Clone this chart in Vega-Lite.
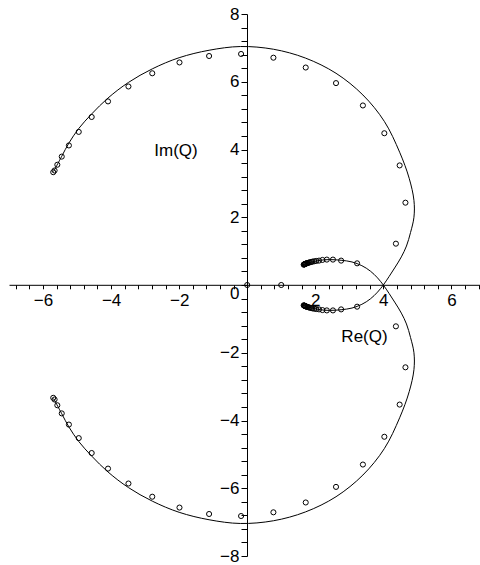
{
  "$schema": "https://vega.github.io/schema/vega-lite/v6.json",
  "width": 473,
  "height": 542,
  "autosize": "none",
  "padding": {"left": 9, "top": 14, "right": 0, "bottom": 9},
  "background": "white",
  "config": {
    "view": {"stroke": null},
    "font": "Liberation Sans"
  },
  "datasets": {
    "curve": [
      {"branch": "a", "i": 0, "re": -5.69, "im": 3.35},
      {"branch": "a", "i": 1, "re": -5.45, "im": 3.8},
      {"branch": "a", "i": 2, "re": -5.24, "im": 4.19},
      {"branch": "a", "i": 3, "re": -4.95, "im": 4.62},
      {"branch": "a", "i": 4, "re": -4.57, "im": 5.05},
      {"branch": "a", "i": 5, "re": -4.09, "im": 5.52},
      {"branch": "a", "i": 6, "re": -3.49, "im": 5.98},
      {"branch": "a", "i": 7, "re": -2.79, "im": 6.38},
      {"branch": "a", "i": 8, "re": -2.0, "im": 6.71},
      {"branch": "a", "i": 9, "re": -1.12, "im": 6.93},
      {"branch": "a", "i": 10, "re": -0.2, "im": 7.04},
      {"branch": "a", "i": 11, "re": 0.77, "im": 6.96},
      {"branch": "a", "i": 12, "re": 1.71, "im": 6.7},
      {"branch": "a", "i": 13, "re": 2.61, "im": 6.25},
      {"branch": "a", "i": 14, "re": 3.4, "im": 5.61},
      {"branch": "a", "i": 15, "re": 4.03, "im": 4.83},
      {"branch": "a", "i": 16, "re": 4.48, "im": 3.92},
      {"branch": "a", "i": 17, "re": 4.76, "im": 3.15},
      {"branch": "a", "i": 18, "re": 4.9, "im": 2.5},
      {"branch": "a", "i": 19, "re": 4.9, "im": 2.0},
      {"branch": "a", "i": 20, "re": 4.8, "im": 1.55},
      {"branch": "a", "i": 21, "re": 4.68, "im": 1.15},
      {"branch": "a", "i": 22, "re": 4.53, "im": 0.83},
      {"branch": "a", "i": 23, "re": 4.35, "im": 0.53},
      {"branch": "a", "i": 24, "re": 4.17, "im": 0.25},
      {"branch": "a", "i": 25, "re": 4.0, "im": 0.0},
      {"branch": "a", "i": 26, "re": 3.83, "im": -0.21},
      {"branch": "a", "i": 27, "re": 3.62, "im": -0.41},
      {"branch": "a", "i": 28, "re": 3.37, "im": -0.57},
      {"branch": "a", "i": 29, "re": 3.08, "im": -0.68},
      {"branch": "a", "i": 30, "re": 2.76, "im": -0.73},
      {"branch": "a", "i": 31, "re": 2.42, "im": -0.75},
      {"branch": "a", "i": 32, "re": 2.15, "im": -0.73},
      {"branch": "a", "i": 33, "re": 1.9, "im": -0.68},
      {"branch": "a", "i": 34, "re": 1.66, "im": -0.6},
      {"branch": "b", "i": 0, "re": -5.69, "im": -3.35},
      {"branch": "b", "i": 1, "re": -5.45, "im": -3.8},
      {"branch": "b", "i": 2, "re": -5.24, "im": -4.19},
      {"branch": "b", "i": 3, "re": -4.95, "im": -4.62},
      {"branch": "b", "i": 4, "re": -4.57, "im": -5.05},
      {"branch": "b", "i": 5, "re": -4.09, "im": -5.52},
      {"branch": "b", "i": 6, "re": -3.49, "im": -5.98},
      {"branch": "b", "i": 7, "re": -2.79, "im": -6.38},
      {"branch": "b", "i": 8, "re": -2.0, "im": -6.71},
      {"branch": "b", "i": 9, "re": -1.12, "im": -6.93},
      {"branch": "b", "i": 10, "re": -0.2, "im": -7.04},
      {"branch": "b", "i": 11, "re": 0.77, "im": -6.96},
      {"branch": "b", "i": 12, "re": 1.71, "im": -6.7},
      {"branch": "b", "i": 13, "re": 2.61, "im": -6.25},
      {"branch": "b", "i": 14, "re": 3.4, "im": -5.61},
      {"branch": "b", "i": 15, "re": 4.03, "im": -4.83},
      {"branch": "b", "i": 16, "re": 4.48, "im": -3.92},
      {"branch": "b", "i": 17, "re": 4.76, "im": -3.15},
      {"branch": "b", "i": 18, "re": 4.9, "im": -2.5},
      {"branch": "b", "i": 19, "re": 4.9, "im": -2.0},
      {"branch": "b", "i": 20, "re": 4.8, "im": -1.55},
      {"branch": "b", "i": 21, "re": 4.68, "im": -1.15},
      {"branch": "b", "i": 22, "re": 4.53, "im": -0.83},
      {"branch": "b", "i": 23, "re": 4.35, "im": -0.53},
      {"branch": "b", "i": 24, "re": 4.17, "im": -0.25},
      {"branch": "b", "i": 25, "re": 4.0, "im": 0.0},
      {"branch": "b", "i": 26, "re": 3.83, "im": 0.21},
      {"branch": "b", "i": 27, "re": 3.62, "im": 0.41},
      {"branch": "b", "i": 28, "re": 3.37, "im": 0.57},
      {"branch": "b", "i": 29, "re": 3.08, "im": 0.68},
      {"branch": "b", "i": 30, "re": 2.76, "im": 0.73},
      {"branch": "b", "i": 31, "re": 2.42, "im": 0.75},
      {"branch": "b", "i": 32, "re": 2.15, "im": 0.73},
      {"branch": "b", "i": 33, "re": 1.9, "im": 0.68},
      {"branch": "b", "i": 34, "re": 1.66, "im": 0.6}
    ],
    "points": [
      {"re": 0.0, "im": 0.0},
      {"re": 1.0, "im": 0.0},
      {"re": -5.7, "im": 3.33},
      {"re": -5.66, "im": 3.38},
      {"re": -5.58, "im": 3.55},
      {"re": -5.45, "im": 3.79},
      {"re": -5.24, "im": 4.12},
      {"re": -4.95, "im": 4.52},
      {"re": -4.57, "im": 4.96},
      {"re": -4.09, "im": 5.42},
      {"re": -3.49, "im": 5.86},
      {"re": -2.79, "im": 6.25},
      {"re": -1.99, "im": 6.57},
      {"re": -1.12, "im": 6.76},
      {"re": -0.18, "im": 6.82},
      {"re": 0.77, "im": 6.71},
      {"re": 1.72, "im": 6.42},
      {"re": 2.61, "im": 5.96},
      {"re": 3.4, "im": 5.3},
      {"re": 4.03, "im": 4.48},
      {"re": 4.48, "im": 3.53},
      {"re": 4.65, "im": 2.43},
      {"re": 4.37, "im": 1.22},
      {"re": 3.23, "im": 0.64},
      {"re": 2.76, "im": 0.72},
      {"re": 2.52, "im": 0.75},
      {"re": 2.34, "im": 0.75},
      {"re": 2.21, "im": 0.74},
      {"re": 2.11, "im": 0.72},
      {"re": 2.03, "im": 0.71},
      {"re": 1.97, "im": 0.7},
      {"re": 1.92, "im": 0.69},
      {"re": 1.88, "im": 0.68},
      {"re": 1.84, "im": 0.67},
      {"re": 1.81, "im": 0.66},
      {"re": 1.78, "im": 0.65},
      {"re": 1.76, "im": 0.645},
      {"re": 1.74, "im": 0.64},
      {"re": 1.72, "im": 0.63},
      {"re": 1.71, "im": 0.625},
      {"re": 1.7, "im": 0.62},
      {"re": 1.69, "im": 0.615},
      {"re": 1.68, "im": 0.61},
      {"re": 1.67, "im": 0.605},
      {"re": 1.66, "im": 0.6},
      {"re": -5.7, "im": -3.33},
      {"re": -5.66, "im": -3.38},
      {"re": -5.58, "im": -3.55},
      {"re": -5.45, "im": -3.79},
      {"re": -5.24, "im": -4.12},
      {"re": -4.95, "im": -4.52},
      {"re": -4.57, "im": -4.96},
      {"re": -4.09, "im": -5.42},
      {"re": -3.49, "im": -5.86},
      {"re": -2.79, "im": -6.25},
      {"re": -1.99, "im": -6.57},
      {"re": -1.12, "im": -6.76},
      {"re": -0.18, "im": -6.82},
      {"re": 0.77, "im": -6.71},
      {"re": 1.72, "im": -6.42},
      {"re": 2.61, "im": -5.96},
      {"re": 3.4, "im": -5.3},
      {"re": 4.03, "im": -4.48},
      {"re": 4.48, "im": -3.53},
      {"re": 4.65, "im": -2.43},
      {"re": 4.37, "im": -1.22},
      {"re": 3.23, "im": -0.64},
      {"re": 2.76, "im": -0.72},
      {"re": 2.52, "im": -0.75},
      {"re": 2.34, "im": -0.75},
      {"re": 2.21, "im": -0.74},
      {"re": 2.11, "im": -0.72},
      {"re": 2.03, "im": -0.71},
      {"re": 1.97, "im": -0.7},
      {"re": 1.92, "im": -0.69},
      {"re": 1.88, "im": -0.68},
      {"re": 1.84, "im": -0.67},
      {"re": 1.81, "im": -0.66},
      {"re": 1.78, "im": -0.65},
      {"re": 1.76, "im": -0.645},
      {"re": 1.74, "im": -0.64},
      {"re": 1.72, "im": -0.63},
      {"re": 1.71, "im": -0.625},
      {"re": 1.7, "im": -0.62},
      {"re": 1.69, "im": -0.615},
      {"re": 1.68, "im": -0.61},
      {"re": 1.67, "im": -0.605},
      {"re": 1.66, "im": -0.6}
    ]
  },
  "encoding": {
    "x": {
      "field": "re",
      "type": "quantitative",
      "scale": {"domain": [-7, 6.9], "nice": false, "zero": false},
      "axis": {
        "orient": "bottom",
        "offset": -271.2,
        "values": [-6.8, -6.4, -6, -5.6, -5.2, -4.8, -4.4, -4, -3.6, -3.2, -2.8, -2.4, -2, -1.6, -1.2, -0.8, -0.4, 0, 0.4, 0.8, 1.2, 1.6, 2, 2.4, 2.8, 3.2, 3.6, 4, 4.4, 4.8, 5.2, 5.6, 6, 6.4, 6.8],
        "labelExpr": "datum.value % 2 == 0 && datum.value != 0 ? format(datum.value, 'd') : ''",
        "grid": false,
        "domainColor": "black",
        "domainWidth": 1,
        "tickColor": "black",
        "tickWidth": 1,
        "tickSize": 4,
        "labelColor": "black",
        "labelFont": "Liberation Sans",
        "labelFontSize": 17,
        "labelPadding": 4,
        "labelFlush": false,
        "labelOverlap": false,
        "title": "Re(Q)",
        "titleFont": "Liberation Sans",
        "titleFontSize": 17,
        "titleFontWeight": "normal",
        "titleColor": "black",
        "titleAlign": "center",
        "titleBaseline": "middle",
        "titleX": 355,
        "titleY": 52
      }
    },
    "y": {
      "field": "im",
      "type": "quantitative",
      "scale": {"domain": [-8, 8], "nice": false, "zero": false},
      "axis": {
        "orient": "left",
        "offset": -238,
        "values": [-8, -7.6, -7.2, -6.8, -6.4, -6, -5.6, -5.2, -4.8, -4.4, -4, -3.6, -3.2, -2.8, -2.4, -2, -1.6, -1.2, -0.8, -0.4, 0, 0.4, 0.8, 1.2, 1.6, 2, 2.4, 2.8, 3.2, 3.6, 4, 4.4, 4.8, 5.2, 5.6, 6, 6.4, 6.8, 7.2, 7.6, 8],
        "labelExpr": "datum.value % 2 == 0 ? format(datum.value, 'd') : ''",
        "labelOffset": {"condition": {"test": "datum.value == 0", "value": 8}, "value": 0},
        "grid": false,
        "domainColor": "black",
        "domainWidth": 1,
        "tickColor": "black",
        "tickWidth": 1,
        "tickSize": 6,
        "labelColor": "black",
        "labelFont": "Liberation Sans",
        "labelFontSize": 17,
        "labelPadding": 2,
        "labelFlush": false,
        "labelOverlap": false,
        "title": "Im(Q)",
        "titleFont": "Liberation Sans",
        "titleFontSize": 17,
        "titleFontWeight": "normal",
        "titleColor": "black",
        "titleAngle": 0,
        "titleAlign": "center",
        "titleBaseline": "middle",
        "titleX": -71.5,
        "titleY": 136
      }
    }
  },
  "layer": [
    {
      "data": {"name": "curve"},
      "mark": {"type": "line", "interpolate": "catmull-rom", "color": "black", "strokeWidth": 1},
      "encoding": {
        "detail": {"field": "branch", "type": "nominal"},
        "order": {"field": "i", "type": "quantitative"}
      }
    },
    {
      "data": {"name": "points"},
      "mark": {"type": "point", "shape": "circle", "filled": false, "color": "black", "size": 26, "strokeWidth": 1, "opacity": 1}
    }
  ]
}
